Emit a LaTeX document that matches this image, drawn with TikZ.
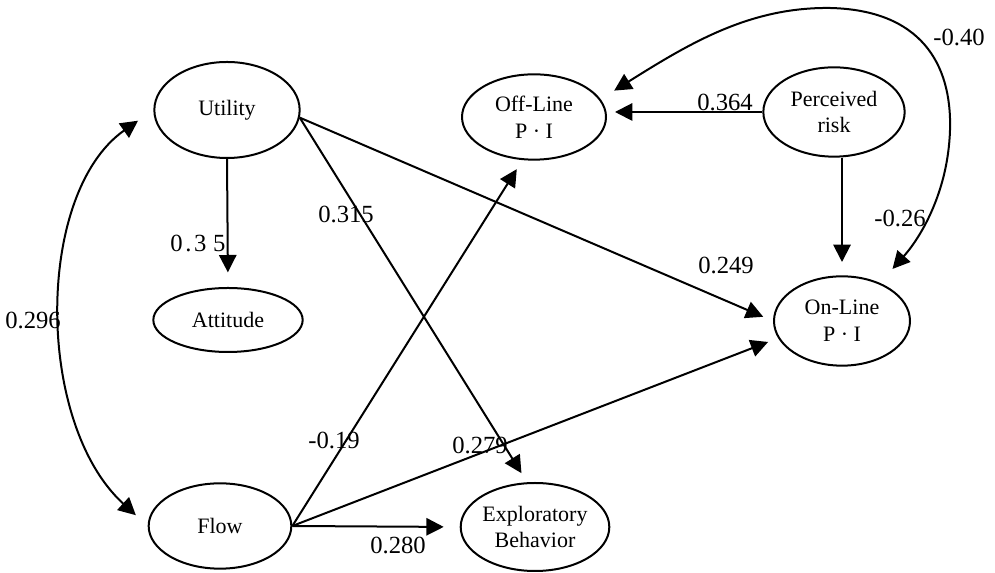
\documentclass[tikz,border=0pt]{standalone}
\usepackage{fontspec}
\setmainfont{Liberation Serif}
\usetikzlibrary{arrows.meta,shapes.geometric}
\begin{document}
\begin{tikzpicture}[x=0.75pt,y=0.75pt,
  latent/.style={draw, line width=1.5pt, ellipse, inner sep=0pt, align=center, font=\fontsize{16.5}{20}\selectfont},
  arr/.style={line width=1.5pt, -{Triangle[length=13pt,width=13pt]}, shorten >=8pt},
  darr/.style={line width=1.5pt, {Triangle[length=13pt,width=13pt]}-{Triangle[length=13pt,width=13pt]}},
  coef/.style={font=\fontsize{18.5}{20}\selectfont, inner sep=0pt}]
\useasboundingbox (0,0) rectangle (995,573);
% nodes
\node[latent, minimum width=109pt, minimum height=72pt] (utl) at (227,463) {Utility};
\node[latent, minimum width=112pt, minimum height=48pt] (att) at (228,253) {Attitude};
\node[latent, minimum width=108pt, minimum height=64pt] (ofl) at (534,456) {Off-Line\\P · I};
\node[latent, minimum width=106pt, minimum height=67pt] (per) at (834,461) {Perceived\\risk};
\node[latent, minimum width=102pt, minimum height=67pt] (onl) at (842,252) {On-Line\\P · I};
\node[latent, minimum width=107pt, minimum height=64pt] (flw) at (220,47) {Flow};
\node[latent, minimum width=110pt, minimum height=66pt] (exp) at (535,46) {Exploratory\\Behavior};
% connectors
\draw[arr, shorten >=11pt] (utl.south) -- (att.north);
\draw[arr] (utl.-6) -- (onl.west);
\draw[arr] (utl.-6) -- (exp.100);
\draw[arr] (flw.east) -- (ofl.-105);
\draw[arr] (flw.east) -- (onl.195);
\draw[arr, shorten >=12pt] (flw.east) -- (exp.west);
\draw[arr, shorten >=6pt] (per.west) -- (ofl.east |- per.west);
\draw[arr, shorten >=10pt] (per.south -| onl.north) -- (onl.north);
\draw[darr, shorten <=14pt, shorten >=12pt] (utl.west) .. controls (35,380) and (35,150) .. (flw.west);
\draw[darr, shorten <=12pt, shorten >=14pt] (ofl.15) .. controls (690,530) and (750,566) .. (830,565) .. controls (920,563) and (952,510) .. (950,443) .. controls (948,380) and (920,335) .. (onl.45);
% labels
\node[coef] (l035) at (198,330) {0\hspace{2pt}.\hspace{2pt}3\hspace{5pt}5};
\node[coef] (l315) at (346,359) {0.315};
\node[coef] (l249) at (726,308) {0.249};
\node[coef] (l296) at (33,253) {0.296};
\node[coef] (l019) at (334,133) {-0.19};
\node[coef] (l279) at (480,128) {0.279};
\node[coef] (l280) at (398,28) {0.280};
\node[coef] (l364) at (725,471) {0.364};
\node[coef] (l026) at (900,355) {-0.26};
\node[coef] (l040) at (959,536) {-0.40};
\end{tikzpicture}
\end{document}
